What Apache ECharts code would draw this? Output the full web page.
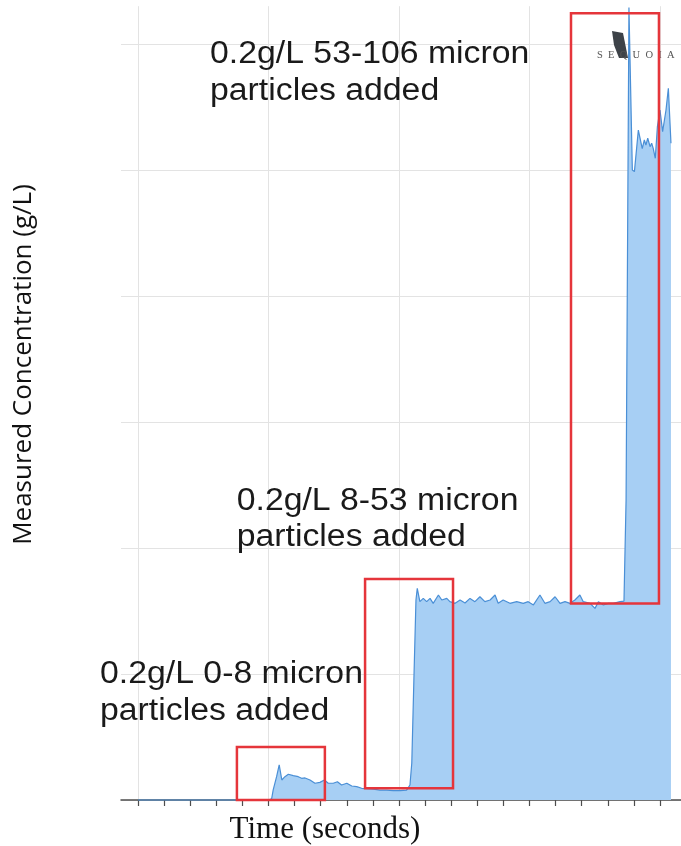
<!DOCTYPE html>
<html>
<head>
<meta charset="utf-8">
<script src="https://cdn.jsdelivr.net/npm/echarts@6/dist/echarts.min.js"></script>
<style>
  html, body { margin: 0; padding: 0; background: #fff; overflow: hidden; }
  /* wider than the window so the time axis can run on past the right edge */
  #chart { width: 800px; height: 846px; }
</style>
</head>
<body>
<div id="chart"></div>
<script>
// time (s) and measured concentration (g/L)
var times = [0, 50, 51.2, 51.8, 53.1, 54.1, 55.1, 56.3, 57.6, 59.5,
    61.4, 62.7, 64.0, 65.9, 67.8, 69.7, 71.4, 72.9, 74.8, 76.4,
    78.0, 80.0, 81.9, 83.8, 85.7, 87.6, 90.2, 92.7, 95.3, 97.8,
    100.4, 102.9, 104.2, 104.9, 105.7, 106.5, 107.0, 108.0, 109.3, 110.6,
    111.9, 113.1, 115.1, 116.4, 118.3, 119.5, 121.5, 123.4, 125.3, 127.2,
    129.1, 131.0, 132.9, 134.9, 136.8, 138.0, 139.9, 142.5, 145.1, 147.6,
    149.5, 151.5, 154.0, 155.9, 157.9, 159.8, 161.7, 163.6, 165.5, 167.4,
    169.3, 170.6, 173.2, 175.1, 176.4, 178.3, 180.2, 182.1, 184.7, 186.2,
    187.0, 188.1, 189.4, 190.2, 191.7, 192.3, 193.2, 194.0, 194.6, 195.3,
    196.2, 196.8, 197.4, 198.2, 199.0, 200.0, 201.0, 202.3, 203.2, 204.2];
var conc = [0, 0, 0.001, 0.008, 0.0185, 0.0278, 0.0159, 0.0185, 0.0204, 0.0193,
    0.0185, 0.0172, 0.0175, 0.0159, 0.0133, 0.0140, 0.0159, 0.0133, 0.0133, 0.0145,
    0.0119, 0.0133, 0.0111, 0.0106, 0.0093, 0.0090, 0.0087, 0.0079, 0.0079, 0.0074,
    0.0074, 0.0079, 0.0119, 0.0294, 0.0952, 0.1587, 0.168, 0.1574, 0.160, 0.1574,
    0.160, 0.1561, 0.1627, 0.1587, 0.160, 0.1574, 0.1561, 0.1587, 0.1564, 0.160,
    0.1574, 0.1613, 0.1574, 0.1587, 0.1627, 0.1561, 0.1587, 0.1561, 0.1574, 0.1561,
    0.1574, 0.1548, 0.1627, 0.1561, 0.1574, 0.1613, 0.1561, 0.1574, 0.1561, 0.1587,
    0.1627, 0.1574, 0.1561, 0.1521, 0.1574, 0.1548, 0.1561, 0.1561, 0.1574, 0.1579,
    0.238, 0.629, 0.5, 0.4987, 0.5317, 0.533, 0.517, 0.5238, 0.5198, 0.5252,
    0.5185, 0.5212, 0.5172, 0.5093, 0.5344, 0.5476, 0.5304, 0.5476, 0.5648, 0.5212];

// red windows: [t start, c low, t end, c high]
var boxStart = [37.9, 87.0, 165.9];
var boxEnd = [71.6, 120.7, 199.6];
var boxLow = [-0.004, 0.0093, 0.156];
var boxHigh = [0.042, 0.1754, 0.6244];

var notes = ['0.2g/L 0-8 micron\nparticles added',
    '0.2g/L 8-53 micron\nparticles added',
    '0.2g/L 53-106 micron\nparticles added'];

var AXIS = '#4d4d4d';
var GRID = '#e3e3e3';

var myChart = echarts.init(document.getElementById('chart'));

var pts = times.map(function (t, i) { return [t, conc[i]]; });
var areas = boxStart.map(function (s, i) {
    return [{coord: [s, boxLow[i]]}, {coord: [boxEnd[i], boxHigh[i]]}];
});

// note blocks: left x, baseline of first line
var notePos = [[100, 685], [236.7, 511.7], [210, 65]];
var graphics = notes.map(function (txt, i) {
    return {
        type: 'text', x: notePos[i][0], y: notePos[i][1] - 28.5, scaleX: 1.09, z: 100,
        style: {text: txt, font: '31px "Liberation Sans"', lineHeight: 36.5,
            fill: '#1a1a1a', align: 'left', verticalAlign: 'top'}
    };
});
graphics.push({
    type: 'text', x: 24, y: 364.5, rotation: Math.PI / 2, z: 100,
    style: {text: 'Measured Concentration (g/L)', font: '26px "Open Sans"',
        fill: '#111', align: 'center', verticalAlign: 'middle'}
});
graphics.push({
    type: 'text', x: 325, y: 830, z: 100,
    style: {text: 'Time (seconds)', font: '31px "Liberation Serif"',
        fill: '#111', align: 'center', verticalAlign: 'middle'}
});
// watermark logo
graphics.push({
    type: 'polygon', z: 1,
    shape: {points: [[612, 31], [623, 33], [628, 58], [619, 58], [614, 45]]},
    style: {fill: '#3d4248'}
});
graphics.push({
    type: 'text', x: 597, y: 55, z: 1,
    style: {text: 'S  E  Q  U  O  I  A', font: '10.5px "Liberation Serif"',
        fill: '#555', align: 'left', verticalAlign: 'middle'}
});

var option = {
    backgroundColor: '#fff',
    animation: false,
    grid: [
        {left: 121, right: 119, top: 44, bottom: 46},
        {left: 138, right: 9.5, top: 6.2, bottom: 46}
    ],
    xAxis: [
        {gridIndex: 0, type: 'value', min: 0, max: 1,
            axisLine: {show: true, lineStyle: {color: AXIS, width: 1.5}},
            axisTick: {show: false}, axisLabel: {show: false}, splitLine: {show: false}},
        {gridIndex: 1, type: 'value', min: 0, max: 250, interval: 50,
            axisLine: {show: false},
            axisTick: {show: true, length: 6, lineStyle: {color: AXIS, width: 1.2}},
            minorTick: {show: true, splitNumber: 5, length: 6, lineStyle: {color: AXIS, width: 1.2}},
            axisLabel: {show: false},
            splitLine: {show: true, lineStyle: {color: GRID, width: 1}}}
    ],
    yAxis: [
        {gridIndex: 0, type: 'value', min: 0, max: 0.6, interval: 0.1,
            axisLine: {show: false}, axisTick: {show: false}, axisLabel: {show: false},
            splitLine: {show: true, lineStyle: {color: GRID, width: 1}}},
        {gridIndex: 1, type: 'value', min: 0, max: 0.63, show: false}
    ],
    series: [{
        type: 'line',
        xAxisIndex: 1, yAxisIndex: 1,
        data: pts,
        symbol: 'none',
        clip: false,
        lineStyle: {color: '#4a8fd6', width: 1.2},
        areaStyle: {color: '#a7cff4', opacity: 1},
        z: 2,
        markArea: {
            silent: true,
            z: 5,
            itemStyle: {color: 'rgba(0,0,0,0)', borderColor: '#e5353b', borderWidth: 2.5},
            label: {show: false},
            data: areas
        }
    }],
    graphic: graphics
};

myChart.setOption(option);
</script>
</body>
</html>
